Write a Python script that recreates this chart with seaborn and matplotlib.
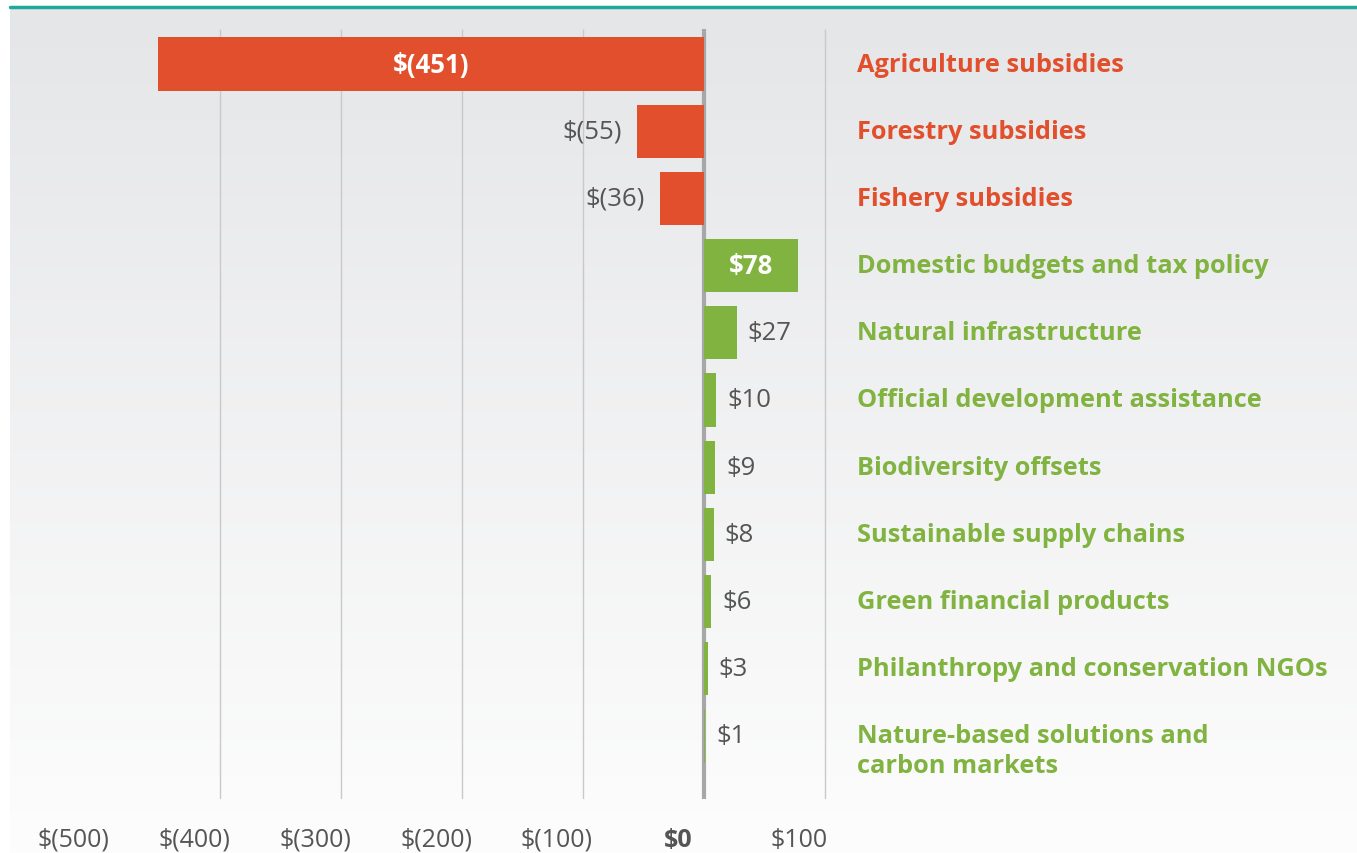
import numpy as np
import matplotlib.pyplot as plt
import matplotlib.transforms as mtransforms
from matplotlib.colors import LinearSegmentedColormap
import seaborn as sns

# data
categories = ['Agriculture subsidies', 'Forestry subsidies', 'Fishery subsidies',
              'Domestic budgets and tax policy', 'Natural infrastructure',
              'Official development assistance', 'Biodiversity offsets',
              'Sustainable supply chains', 'Green financial products',
              'Philanthropy and conservation NGOs',
              'Nature-based solutions and\ncarbon markets']
values = [-451, -55, -36, 78, 27, 10, 9, 8, 6, 3, 1]
value_labels = ['$(451)', '$(55)', '$(36)', '$78', '$27', '$10', '$9', '$8', '$6', '$3', '$1']
inside = [True, False, False, True, False, False, False, False, False, False, False]
tick_values = [-500, -400, -300, -200, -100, 0, 100]
tick_labels = ['$(500)', '$(400)', '$(300)', '$(200)', '$(100)', '$0', '$100']
grid_values = [-400, -300, -200, -100, 100]

red = '#e24f2c'
green = '#80b340'
colors = [red if v < 0 else green for v in values]

sns.set_theme(style='white')
plt.rcParams['font.family'] = ['Open Sans', 'DejaVu Sans']

W, H = 1357, 854
fig = plt.figure(figsize=(W / 100, H / 100), dpi=100)
fig.patch.set_facecolor('white')

# background gradient + teal top rule
bg = fig.add_axes([10 / W, 0, 1 - 10 / W, (H - 10) / H], zorder=0)
grad = np.linspace(0, 1, 256).reshape(-1, 1)
cmap = LinearSegmentedColormap.from_list('bg', ['#e5e6e8', '#fdfdfd'])
bg.imshow(grad, aspect='auto', cmap=cmap, extent=[0, 1, 0, 1], origin='upper')
bg.set_axis_off()
fig.add_artist(plt.Line2D([10 / W, 1], [(H - 8) / H, (H - 8) / H], color='#1fa99b', lw=2.5,
                          transform=fig.transFigure))

# main axes: left at 10px, right at figure edge; y from 30px to 800px
ax = fig.add_axes([10 / W, (H - 800) / H, 1 - 10 / W, 770 / H], zorder=1)
ax.patch.set_alpha(0)

sns.barplot(x=values, y=categories, hue=categories, palette=colors, orient='h',
            width=0.79, saturation=1, legend=False, linewidth=0, ax=ax, zorder=3)

px = 1.21  # pixels per unit
ax.set_xlim((10 - 704) / px, (W - 704) / px)
ax.set_ylim(10 + 63 / 67.2, -35 / 67.2)

ymin, ymax = ax.get_ylim()
ax.vlines(grid_values, ymax, ymin, color='#c9c9cb', lw=1, zorder=1)
ax.axvline(0, color='#a7a7a9', lw=3, zorder=2)

for s in ax.spines.values():
    s.set_visible(False)
ax.set_yticks([])
ax.set_ylabel('')
ax.set_xticks(tick_values)
ax.set_xticklabels(tick_labels, fontsize=18, color='#555555')
ax.tick_params(axis='x', length=0, pad=20)
offset = mtransforms.ScaledTranslation(-0.26, 0, fig.dpi_scale_trans)
for lbl in ax.get_xticklabels():
    lbl.set_transform(lbl.get_transform() + offset)
    if lbl.get_text() == '$0':
        lbl.set_fontweight('bold')

# value labels
for i, (v, t, ins) in enumerate(zip(values, value_labels, inside)):
    if ins:
        ax.text(v / 2, i, t, color='white', fontsize=18.5, fontweight='bold',
                ha='center', va='center', zorder=5)
    elif v < 0:
        ax.annotate(t, (v, i), xytext=(-11, 0), textcoords='offset points',
                    ha='right', va='center', fontsize=18.5, color='#555555')
    else:
        ax.annotate(t, (v, i), xytext=(8, 0), textcoords='offset points',
                    ha='left', va='center', fontsize=18.5, color='#555555')

# category labels
lx = (857 - 704) / px
for i, (c, col) in enumerate(zip(categories, colors)):
    if '\n' in c:
        ax.text(lx, i - 0.2, c, color=col, fontsize=18.3, fontweight='bold',
                ha='left', va='top', linespacing=1.3)
    else:
        ax.text(lx, i, c, color=col, fontsize=18.3, fontweight='bold',
                ha='left', va='center')

fig.savefig('out.png', dpi=100)
